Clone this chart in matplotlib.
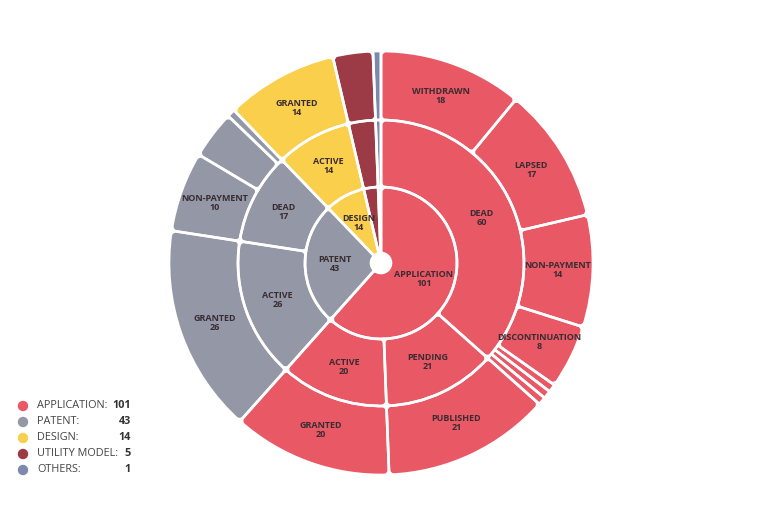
import matplotlib
matplotlib.use("Agg")
import matplotlib.pyplot as plt
from matplotlib.patches import Polygon, Ellipse
import numpy as np

# ---- data ----
inner_labels = ["APPLICATION", "PATENT", "DESIGN", "UTILITY MODEL", "OTHERS"]
inner_values = [101, 43, 14, 5, 1]

middle_labels = ["DEAD", "PENDING", "ACTIVE", "ACTIVE", "DEAD", "ACTIVE", "", ""]
middle_values = [60, 21, 20, 26, 17, 14, 5, 1]
middle_parent = [0, 0, 0, 1, 1, 2, 3, 4]

outer_labels = ["WITHDRAWN", "LAPSED", "NON-PAYMENT", "DISCONTINUATION", "", "", "",
                "PUBLISHED", "GRANTED", "GRANTED", "NON-PAYMENT", "", "", "GRANTED", "", ""]
outer_values = [18, 17, 14, 8, 1, 1, 1, 21, 20, 26, 10, 6, 1, 14, 5, 1]
outer_parent = [0, 0, 0, 0, 0, 0, 0, 0, 0, 1, 1, 1, 1, 2, 3, 4]

colors = ["#E85865", "#9497A6", "#F9CF4B", "#9C3B45", "#7C89AC"]
text_color = "#3A2C33"

W, H = 768, 527
fig = plt.figure(figsize=(W / 100, H / 100), dpi=100)
cx, cy, R = 381, 263, 212
lim = 1.03
ax = fig.add_axes([(cx - R * lim) / W, (H - cy - R * lim) / H, 2 * R * lim / W, 2 * R * lim / H])

r_hole, r1, r2, r3 = 10 / R, 76 / R, 143 / R, 1.0
font = "Open Sans"
min_label = 8
corner_px = 8.0
gap_pt = 1.9
PX = 1.0 / R  # one pixel in data units


def rounded(w):
    """Replace a pie wedge by a polygon with rounded corners (stroked with round joins)."""
    t1, t2 = np.radians(w.theta1), np.radians(w.theta2)
    r_out = w.r
    r_in = w.r - w.width
    dth = t2 - t1
    chord_half = r_in * np.sin(dth / 2)
    s = min(corner_px * PX, 0.9 * chord_half, 0.45 * (r_out - r_in))
    s = max(s, 0.0)
    if s < 0.3 * PX:
        return None
    ro = r_out - s
    ri = max(r_in + s, s / np.sin(dth / 2))
    if ri >= ro:
        return None
    a_o = np.arcsin(min(1, s / ro))
    a_i = np.arcsin(min(1, s / ri))
    ao = np.linspace(t1 + a_o, t2 - a_o, 80)
    ai = np.linspace(t2 - a_i, t1 + a_i, 80)
    pts = np.concatenate([np.c_[ro * np.cos(ao), ro * np.sin(ao)],
                          np.c_[ri * np.cos(ai), ri * np.sin(ai)]])
    fc = w.get_facecolor()
    return Polygon(pts, closed=True, facecolor=fc, edgecolor=fc,
                   linewidth=2 * s / PX * 0.72, joinstyle="round", zorder=1)


def ring(values, cols, r_in, r_out, labels, label_r):
    wedges, _ = ax.pie(values, radius=r_out, colors=cols, startangle=90, counterclock=False,
                       wedgeprops=dict(width=r_out - r_in, edgecolor="white",
                                       linewidth=gap_pt))
    for w in wedges:
        poly = rounded(w)
        if poly is not None:
            ax.add_patch(poly)
            w.set_facecolor("none")
        w.set_zorder(2)
    total = sum(values)
    cum = 0
    for v, lab in zip(values, labels):
        mid = (cum + v / 2) / total * 2 * np.pi
        cum += v
        if lab and v >= min_label:
            x = label_r * np.sin(mid)
            y = label_r * np.cos(mid)
            ax.text(x, y, f"{lab}\n{v}", ha="center", va="center", fontsize=6.5,
                    fontweight="bold", color=text_color, family=font, linespacing=1.0,
                    zorder=3)


ring(inner_values, colors, r_hole, r1, inner_labels, 46 / R)
ring(middle_values, [colors[p] for p in middle_parent], r1, r2, middle_labels, 110 / R)
ring(outer_values, [colors[p] for p in outer_parent], r2, r3, outer_labels, 177 / R)

ax.set_xlim(-lim, lim)
ax.set_ylim(-lim, lim)
ax.set_aspect("equal")
ax.axis("off")

# ---- legend ----
y0 = 406
for i, (lab, v) in enumerate(zip(inner_labels, inner_values)):
    y = 1 - (y0 + i * 16) / H
    fig.patches.append(Ellipse((23 / W, y), 9 / W, 9 / H,
                               transform=fig.transFigure, color=colors[i]))
    fig.text(37 / W, y, f"{lab}:", ha="left", va="center", fontsize=7.8, color="#444444",
             family=font)
    fig.text(131 / W, y, f"{v}", ha="right", va="center", fontsize=7.8, color="#333333",
             family=font, fontweight="bold")

fig.savefig("out.png", dpi=100, facecolor="white")
